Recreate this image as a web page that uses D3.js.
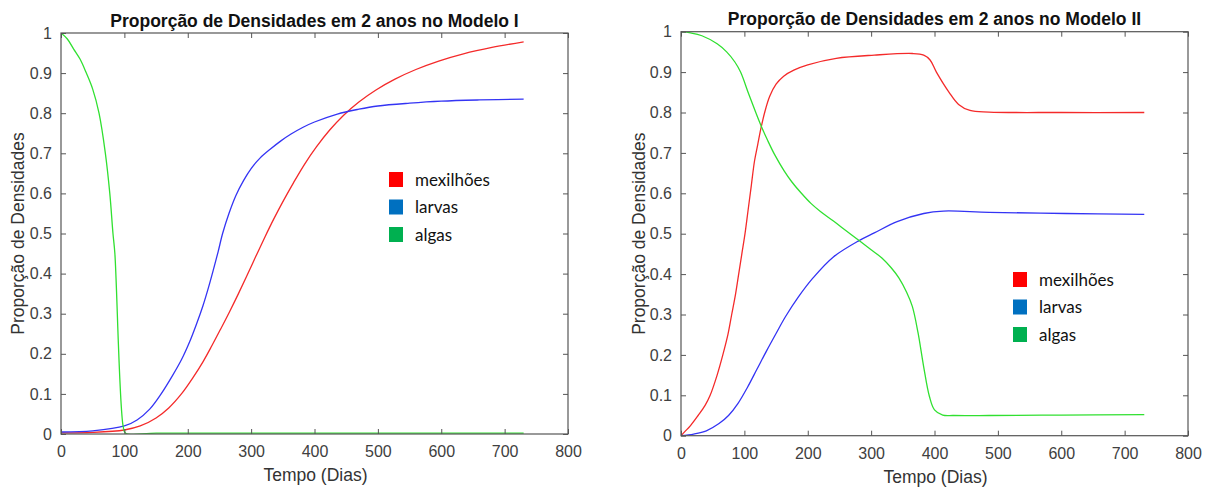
<!DOCTYPE html>
<html>
<head>
<meta charset="utf-8">
<script src="https://cdn.jsdelivr.net/npm/d3@7"></script>
<style>
  html, body { margin: 0; padding: 0; background: #fff; }
  svg { display: block; }
</style>
</head>
<body>
<svg id="chart" width="1211" height="489"></svg>
<script>
// ---------------- DATA ----------------
const seriesNames = ["mexilhões", "larvas", "algas"];
const xTickVals = [0, 100, 200, 300, 400, 500, 600, 700, 800];
const yTickVals = [0, 0.1, 0.2, 0.3, 0.4, 0.5, 0.6, 0.7, 0.8, 0.9, 1];
const yTickLabels = ["0", "0.1", "0.2", "0.3", "0.4", "0.5", "0.6", "0.7", "0.8", "0.9", "1"];
const titles = ["Proporção de Densidades em 2 anos no Modelo I", "Proporção de Densidades em 2 anos no Modelo II"];
const xLabel = "Tempo (Dias)";
const yLabel = "Proporção de Densidades";

// Modelo I  [dia, proporção]
const m1Mexilhoes = [[0,0.003],[50,0.004],[100,0.01],[125,0.02],[150,0.04],[170,0.065],[190,0.1],[208,0.14],[224,0.18],[238,0.22],[252,0.262],[266,0.305],[280,0.35],[294,0.397],[308,0.445],[322,0.492],[336,0.537],[351,0.582],[367,0.627],[384,0.672],[403,0.716],[424,0.758],[446,0.795],[470,0.828],[497,0.858],[527,0.885],[560,0.909],[596,0.93],[635,0.948],[680,0.964],[730,0.978]];
const m1Larvas = [[0,0.005],[50,0.008],[100,0.02],[120,0.035],[140,0.062],[158,0.1],[175,0.143],[190,0.185],[203,0.23],[214,0.275],[224,0.32],[233,0.367],[241,0.413],[248,0.455],[255,0.5],[265,0.55],[276,0.595],[288,0.632],[300,0.662],[314,0.688],[330,0.71],[347,0.731],[363,0.748],[382,0.765],[400,0.778],[436,0.798],[470,0.81],[500,0.818],[550,0.825],[600,0.83],[660,0.833],[730,0.835]];
const m1Algas = [[0,1],[10,0.985],[20,0.96],[30,0.935],[40,0.9],[50,0.86],[60,0.8],[70,0.7],[77,0.6],[82,0.5],[85,0.45],[98,0.02],[102,0.002],[150,0.002],[300,0.002],[500,0.002],[730,0.002]];

// Modelo II  [dia, proporção]
const m2Mexilhoes = [[0,0],[6,0.01],[15,0.025],[27,0.05],[38,0.075],[46,0.1],[57,0.15],[66,0.2],[74,0.25],[80,0.3],[86,0.35],[91,0.4],[96,0.45],[101,0.5],[106,0.56],[111,0.62],[116,0.68],[121,0.72],[126,0.76],[132,0.8],[140,0.84],[150,0.87],[162,0.89],[178,0.905],[200,0.918],[245,0.934],[305,0.942],[365,0.946],[383,0.942],[393,0.93],[403,0.9],[423,0.85],[438,0.82],[456,0.805],[486,0.801],[600,0.8],[731,0.8]];
const m2Larvas = [[0,0],[20,0.004],[40,0.012],[60,0.03],[75,0.05],[90,0.08],[105,0.12],[120,0.165],[135,0.21],[150,0.253],[165,0.295],[185,0.343],[208,0.39],[240,0.442],[281,0.483],[305,0.502],[341,0.53],[383,0.55],[414,0.556],[486,0.553],[607,0.55],[731,0.548]];
const m2Algas = [[0,1],[15,0.997],[33,0.99],[57,0.97],[72,0.95],[85,0.925],[94,0.9],[107,0.845],[118,0.8],[127,0.765],[137,0.73],[148,0.695],[163,0.655],[175,0.628],[190,0.6],[205,0.575],[220,0.555],[240,0.532],[260,0.508],[281,0.483],[300,0.46],[317,0.44],[332,0.415],[344,0.39],[356,0.355],[365,0.32],[374,0.255],[383,0.17],[392,0.097],[400,0.064],[413,0.051],[430,0.05],[486,0.05],[600,0.051],[731,0.052]];

// ---------------- STYLE / LAYOUT ----------------
const lineColors = ["#f42a2a", "#3434f4", "#30e030"];
const legendColors = ["#ff0000", "#0070c0", "#00b050"];

const panels = [
  { left: 61, right: 568, top: 33, bottom: 434, title: titles[0], titleY: 26.5,
    series: [m1Mexilhoes, m1Larvas, m1Algas], yLabelX: 18, legX: 389, legY: 172 },
  { left: 681, right: 1188, top: 31.7, bottom: 435.7, title: titles[1], titleY: 25,
    series: [m2Mexilhoes, m2Larvas, m2Algas], yLabelX: 639, legX: 1013, legY: 272 }
];

const axisFont = "'Liberation Sans', Arial, Helvetica, sans-serif";
const svg = d3.select("#chart");

panels.forEach(p => {
  const x = d3.scaleLinear().domain([0, 800]).range([p.left, p.right]);
  const y = d3.scaleLinear().domain([0, 1]).range([p.bottom, p.top]);
  const g = svg.append("g");

  const clipId = "clip" + p.left;
  svg.append("clipPath").attr("id", clipId).append("rect")
    .attr("x", p.left).attr("y", p.top).attr("width", p.right - p.left).attr("height", p.bottom - p.top);

  const line = d3.line().x(d => x(d[0])).y(d => y(d[1])).curve(d3.curveCatmullRom.alpha(0.5));
  const lg = g.append("g").attr("clip-path", `url(#${clipId})`);
  p.series.forEach((s, i) => {
    lg.append("path").datum(s).attr("d", line)
      .attr("fill", "none").attr("stroke", lineColors[i]).attr("stroke-width", 1.3);
  });

  const axColor = "#555";
  const bottom = g.append("g").attr("transform", `translate(0,${p.bottom})`)
    .call(d3.axisBottom(x).tickValues(xTickVals).tickSize(-5).tickPadding(12).tickFormat(d3.format("d")));
  const top = g.append("g").attr("transform", `translate(0,${p.top})`)
    .call(d3.axisTop(x).tickValues(xTickVals).tickSize(-5).tickFormat(""));
  const leftA = g.append("g").attr("transform", `translate(${p.left},0)`)
    .call(d3.axisLeft(y).tickValues(yTickVals).tickSize(-5).tickPadding(9).tickFormat((d, i) => yTickLabels[i]));
  const rightA = g.append("g").attr("transform", `translate(${p.right},0)`)
    .call(d3.axisRight(y).tickValues(yTickVals).tickSize(-5).tickFormat(""));
  [bottom, top, leftA, rightA].forEach(a => {
    a.select(".domain").remove();
    a.selectAll("line").attr("stroke", axColor);
    a.selectAll("text").attr("fill", "#404040").style("font-family", axisFont).style("font-size", "16px");
  });
  g.append("rect").attr("x", p.left).attr("y", p.top)
    .attr("width", p.right - p.left).attr("height", p.bottom - p.top)
    .attr("fill", "none").attr("stroke", axColor).attr("stroke-width", 1.2);

  g.append("text").attr("x", (p.left + p.right) / 2).attr("y", p.titleY)
    .attr("text-anchor", "middle").style("font-family", axisFont).style("font-weight", "bold")
    .style("font-size", "17.5px").attr("fill", "#111").text(p.title);

  g.append("text").attr("x", (p.left + p.right) / 2 + 1).attr("y", p.bottom + 47)
    .attr("text-anchor", "middle").style("font-family", axisFont).style("font-size", "17.5px")
    .attr("fill", "#333").text(xLabel);

  g.append("text").attr("transform", `translate(${p.yLabelX},${(p.top + p.bottom) / 2}) rotate(-90)`)
    .attr("text-anchor", "middle").attr("dy", "0.35em").style("font-family", axisFont).style("font-size", "17.5px")
    .attr("fill", "#333").text(yLabel);

  const leg = g.append("g");
  seriesNames.forEach((n, i) => {
    const yy = p.legY + i * 27.5;
    leg.append("rect").attr("x", p.legX).attr("y", yy).attr("width", 14).attr("height", 15).attr("fill", legendColors[i]);
    leg.append("text").attr("x", p.legX + 26).attr("y", yy + 13.5)
      .style("font-family", "Lato, 'Open Sans', sans-serif").style("font-size", "17px").attr("fill", "#111").text(n);
  });
});
</script>
</body>
</html>
